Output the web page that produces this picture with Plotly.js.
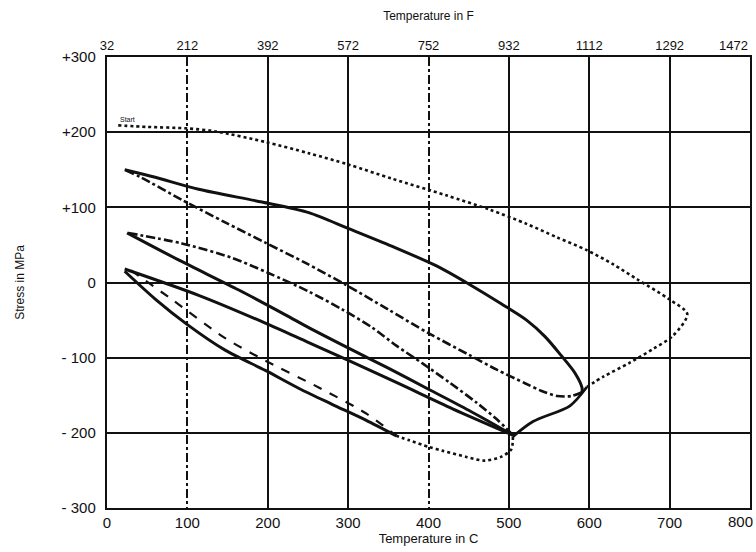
<!DOCTYPE html>
<html><head><meta charset="utf-8">
<script src="https://cdn.plot.ly/plotly-3.0.1.min.js"></script>
<style>html,body{margin:0;padding:0;background:#fff}#chart{width:756px;height:552px}</style>
</head><body><div id="chart"></div>
<script>
// axis ticks
const tempCTicks = [0,100,200,300,400,500,600,700,800];
const tempCLabels = ['0','100','200','300','400','500','600','700','800'];
const tempFLabels = ['32','212','392','572','752','932','1112','1292','1472'];
const solidGridC = [200,300,500,600,700];
const dashedGridC = [100,400];
const stressTicks = [300,200,100,0,-100,-200,-300];
const stressLabels = ['+300','+200','+100','0','- 100','- 200','- 300'];

// outer cycle (max ~720 C), dotted
const outerDotT = [14,50,100,135,197,251,300,355,422,476,522,560,597,630,660,699,722,704,680,650,618,597];
const outerDotS = [209,207,205,201,187,172,157,138,116,97,78,60,43,24,4,-22,-42,-71,-88,-107,-125,-139];
const outerSolidT = [597,576,530,505];
const outerSolidS = [-139,-164,-185,-205];
const outerTailT = [505,503,490,470,447,418,401,376,360];
const outerTailS = [-205,-222,-232,-237,-232,-224,-219,-210,-204];

// 600 C cycle
const c600UpT = [22,60,114,193,251,300,355,410,450,490,522,545,565,582,591,591];
const c600UpS = [150,140,124,107,93,72,48,22,-2,-28,-50,-72,-97,-120,-140,-146];
const c600DnT = [591,578,560,540,520,485,450,401,350,297,247,197,147,93,42,22];
const c600DnS = [-146,-151,-151,-144,-134,-116,-96,-68,-36,-3,26,53,80,110,140,150];

// 500 C cycle
const c500UpT = [25,89,164,222,251,300,350,400,450,505];
const c500UpS = [66,30,-10,-43,-60,-87,-114,-142,-170,-203];
const c500DnT = [505,485,460,426,393,360,330,293,251,200,155,93,26];
const c500DnS = [-203,-182,-160,-133,-108,-84,-60,-36,-12,13,33,52,66];
const c500LowT = [22,114,197,251,301,364,430,505];
const c500LowS = [18,-17,-54,-80,-104,-135,-168,-203];

// 360 C cycle (narrow loop)
const c360LoT = [22,60,100,147,197,239,280,322,360];
const c360LoS = [15,-22,-56,-90,-117,-141,-162,-183,-204];
const c360HiT = [30,80,147,197,264,322,360];
const c360HiS = [16,-22,-74,-104,-140,-174,-204];

const ink = '#111';
function tr(x, y, dash, w, axis) {
  return {x: x, y: y, type: 'scatter', mode: 'lines', hoverinfo: 'skip', xaxis: axis || 'x',
    line: {color: ink, width: w, dash: dash, shape: 'spline', smoothing: 0.8}, showlegend: false};
}
const data = [
  tr(outerDotT, outerDotS, 'dot', 2.6),
  tr(outerSolidT, outerSolidS, 'solid', 2.8),
  tr(outerTailT, outerTailS, 'dot', 2.6),
  tr(c600UpT, c600UpS, 'solid', 3),
  tr(c600DnT, c600DnS, 'dashdot', 2.6),
  tr(c500UpT, c500UpS, 'solid', 3),
  tr(c500DnT, c500DnS, 'dashdot', 2.6),
  tr(c500LowT, c500LowS, 'solid', 3),
  tr(c360LoT, c360LoS, 'solid', 3),
  tr(c360HiT, c360HiS, 'dash', 2.2)
];
// invisible copies so the overlay axes (top scale, grid lines) are drawn
['x2', 'x3', 'x4'].forEach(function (ax) {
  const g = tr(outerDotT, outerDotS, 'solid', 1, ax);
  g.opacity = 0;
  data.unshift(g);
});

// the last label on each temperature scale sits at the right border: drawn right-aligned
const nLast = tempCTicks.length - 1;
const bottomText = tempCLabels.map(function (t, i) { return i === nLast ? '' : t; });
const topText = tempFLabels.map(function (t, i) { return i === nLast ? '' : t; });

const fam = 'Liberation Sans, Arial, sans-serif';
const tickFont = {family: fam, size: 15, color: ink};
const topFont = {family: fam, size: 13, color: ink};
const xRange = [0, 800];
const layout = {
  width: 756, height: 552,
  margin: {l: 107, r: 6, t: 57, b: 44},
  paper_bgcolor: '#fff', plot_bgcolor: '#fff',
  showlegend: false,
  xaxis: {
    range: xRange, tickvals: tempCTicks, ticktext: bottomText, ticks: '',
    showgrid: false, zeroline: false,
    showline: true, linecolor: ink, linewidth: 2.2,
    tickfont: tickFont,
    title: {text: 'Temperature in C', font: {family: fam, size: 13, color: ink}, standoff: 1}
  },
  xaxis2: {
    range: xRange, overlaying: 'x', side: 'top', anchor: 'y',
    tickvals: tempCTicks, ticktext: topText, ticks: '',
    showgrid: false, zeroline: false,
    showline: true, linecolor: ink, linewidth: 2.2,
    tickfont: topFont,
    title: {text: 'Temperature in F', font: {family: fam, size: 12, color: ink}, standoff: 14}
  },
  xaxis3: {
    range: xRange, overlaying: 'x', anchor: 'y', side: 'bottom',
    tickvals: solidGridC, showticklabels: false, ticks: '',
    showgrid: true, gridcolor: ink, gridwidth: 2.2, zeroline: false, showline: false
  },
  xaxis4: {
    range: xRange, overlaying: 'x', anchor: 'y', side: 'bottom',
    tickvals: dashedGridC, showticklabels: false, ticks: '',
    showgrid: true, gridcolor: ink, gridwidth: 2, griddash: 'dashdot', zeroline: false, showline: false
  },
  yaxis: {
    range: [-300, 300], tickvals: stressTicks, ticktext: stressLabels, ticks: '',
    showgrid: true, gridcolor: ink, gridwidth: 2, zeroline: false,
    showline: true, linecolor: ink, linewidth: 2.2, mirror: true,
    tickfont: tickFont, ticklabelstandoff: 6,
    title: {text: 'Stress in MPa', font: {family: fam, size: 12, color: ink}, standoff: 34}
  },
  annotations: [
    {x: tempCTicks[0] + 14, y: 209, xref: 'x', yref: 'y', text: 'Start', showarrow: false,
      xanchor: 'left', yanchor: 'bottom', font: {family: fam, size: 7, color: ink}},
    {x: tempCTicks[nLast], y: 0, xref: 'x', yref: 'paper', text: tempCLabels[nLast], showarrow: false,
      xanchor: 'right', yanchor: 'top', xshift: 5, yshift: -3, font: tickFont},
    {x: tempCTicks[nLast], y: 1, xref: 'x', yref: 'paper', text: tempFLabels[nLast], showarrow: false,
      xanchor: 'right', yanchor: 'bottom', xshift: 0, yshift: 2, font: topFont}
  ]
};
Plotly.newPlot('chart', data, layout, {displayModeBar: false, staticPlot: true});
</script></body></html>
